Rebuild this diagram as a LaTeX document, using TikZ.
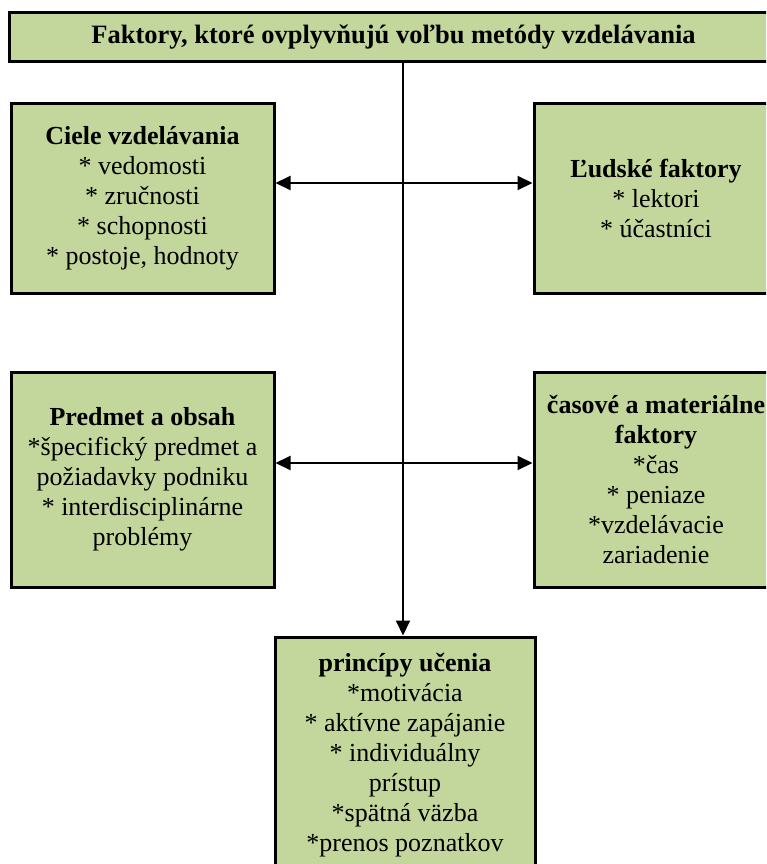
\documentclass[tikz,border=0pt]{standalone}
\usepackage{fontspec}
\setmainfont{Liberation Serif}
\usetikzlibrary{arrows.meta}
\definecolor{boxgreen}{HTML}{C3D69B}
\begin{document}
\begin{tikzpicture}[x=1pt,y=-1pt,
  box/.style={draw=black, line width=3pt, fill=boxgreen, align=center, inner sep=0pt,
    font=\fontsize{26}{30}\selectfont},
  conn/.style={line width=2pt},
  >={Triangle[length=15pt,width=14pt]}]
\useasboundingbox (0,0) rectangle (766,864);
\clip (0,0) rectangle (766,864);
\node[box, minimum width=769pt, minimum height=49pt, font=\fontsize{26.5}{30}\selectfont\bfseries] (top) at (393.5,37.5) {Faktory, ktoré ovplyvňujú voľbu metódy vzdelávania};
\node[box, minimum width=263pt, minimum height=189pt] (l1) at (142.5,198.5)
  {\textbf{Ciele vzdelávania}\\{}* vedomosti\\{}* zručnosti\\{}* schopnosti\\{}* postoje, hodnoty};
\node[box, minimum width=244pt, minimum height=189pt] (r1) at (656,198.5)
  {\textbf{Ľudské faktory}\\{}* lektori\\{}* účastníci};
\node[box, minimum width=263pt, minimum height=215pt] (l2) at (142.5,479.5)
  {\textbf{Predmet a obsah}\\{}*špecifický predmet a\\požiadavky podniku\\{}* interdisciplinárne\\problémy};
\node[box, minimum width=244pt, minimum height=215pt] (r2) at (656,479.5)
  {\textbf{časové a materiálne}\\\textbf{faktory}\\{}*čas\\{}* peniaze\\{}*vzdelávacie\\zariadenie};
\node[box, minimum width=260pt, minimum height=237pt] (bot) at (405,755.5)
  {\textbf{princípy učenia}\\{}*motivácia\\{}* aktívne zapájanie\\{}* individuálny\\prístup\\{}*spätná väzba\\{}*prenos poznatkov};
\coordinate (h1) at (403,183);
\coordinate (h2) at (403,463);
\draw[conn,->] (top.south -| h1) -- (bot.north -| h1);
\draw[conn,<->] (l1.east |- h1) -- (r1.west |- h1);
\draw[conn,<->] (l2.east |- h2) -- (r2.west |- h2);
\end{tikzpicture}
\end{document}
